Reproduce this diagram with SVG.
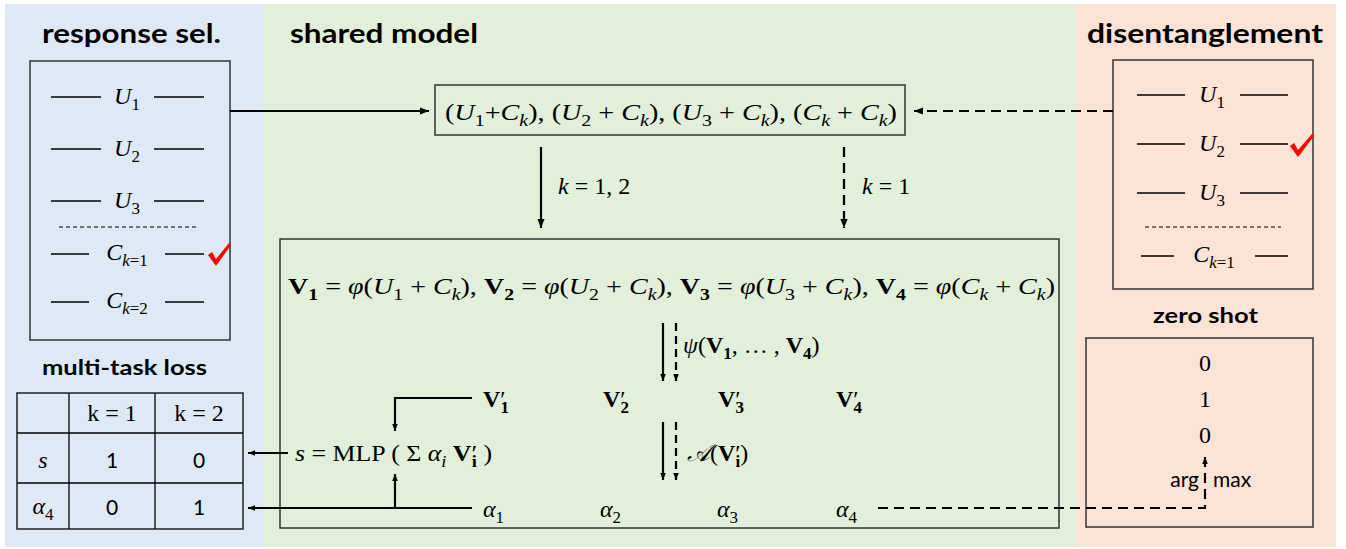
<svg xmlns="http://www.w3.org/2000/svg" width="1346" height="549" viewBox="0 0 1346 549">
<style>
.m{font-family:"Liberation Serif","DejaVu Serif",serif;font-size:24px;fill:#000}
.i{font-style:italic}
.b{font-weight:bold}
.s{font-size:17px}
.t{font-family:Lato,"Open Sans","Liberation Sans",sans-serif;font-weight:bold;font-size:26px;fill:#000}
.sn{font-family:Lato,"Open Sans","Liberation Sans",sans-serif;font-size:21px;fill:#000}
.ln{stroke:#000;stroke-width:1.3}
.box{fill:none;stroke:#333;stroke-width:1.5}
.c{stroke:#000;stroke-width:2.2;fill:none}
.d{stroke-dasharray:10 6}
.dd{stroke:#000;stroke-width:1;stroke-dasharray:4 3}
.chk{fill:#ff0000}
</style>
<defs>
<marker id="ah" viewBox="0 0 10 10" refX="10" refY="5" markerWidth="9" markerHeight="9" markerUnits="userSpaceOnUse" orient="auto"><path d="M0,1 L10,5 L0,9 Z" fill="#000"/></marker>
<marker id="as" viewBox="0 0 10 10" refX="10" refY="5" markerWidth="7" markerHeight="7" markerUnits="userSpaceOnUse" orient="auto"><path d="M0,1 L10,5 L0,9 Z" fill="#000"/></marker>
</defs>

<g id="panels">
<rect x="5" y="4" width="259" height="543" fill="#dee9f5"/>
<rect x="264" y="4" width="812" height="543" fill="#e2efda"/>
<rect x="1076" y="4" width="260" height="543" fill="#fbe4d6"/>
</g>

<g id="titles">
<text class="t" x="131.5" y="43" text-anchor="middle" textLength="179" lengthAdjust="spacingAndGlyphs">response sel.</text>
<text class="t" x="290" y="43" textLength="188" lengthAdjust="spacingAndGlyphs">shared model</text>
<text class="t" x="1205" y="43" text-anchor="middle" textLength="236" lengthAdjust="spacingAndGlyphs">disentanglement</text>
<text class="t" x="124.5" y="375" text-anchor="middle" style="font-size:21px" textLength="165" lengthAdjust="spacingAndGlyphs">multi-task loss</text>
<text class="t" x="1205.5" y="323" text-anchor="middle" style="font-size:21px" textLength="105" lengthAdjust="spacingAndGlyphs">zero shot</text>
</g>

<g id="response-box">
<rect class="box" x="30" y="61" width="200" height="279"/>
<line class="ln" x1="51" y1="97" x2="101" y2="97"/><line class="ln" x1="154" y1="97" x2="204" y2="97"/>
<text class="m" x="127" y="104" text-anchor="middle"><tspan class="i">U</tspan><tspan class="s" dy="6">1</tspan></text>
<line class="ln" x1="51" y1="149" x2="101" y2="149"/><line class="ln" x1="154" y1="149" x2="204" y2="149"/>
<text class="m" x="127" y="156" text-anchor="middle"><tspan class="i">U</tspan><tspan class="s" dy="6">2</tspan></text>
<line class="ln" x1="51" y1="201" x2="101" y2="201"/><line class="ln" x1="154" y1="201" x2="204" y2="201"/>
<text class="m" x="127" y="208" text-anchor="middle"><tspan class="i">U</tspan><tspan class="s" dy="6">3</tspan></text>
<line class="dd" x1="59" y1="227" x2="196" y2="227"/>
<line class="ln" x1="51" y1="254" x2="89" y2="254"/><line class="ln" x1="165" y1="254" x2="204" y2="254"/>
<text class="m" x="127" y="260" text-anchor="middle"><tspan class="i">C</tspan><tspan class="s" dy="6"><tspan class="i">k</tspan>=1</tspan></text>
<line class="ln" x1="51" y1="302" x2="89" y2="302"/><line class="ln" x1="165" y1="302" x2="204" y2="302"/>
<text class="m" x="127" y="308" text-anchor="middle"><tspan class="i">C</tspan><tspan class="s" dy="6"><tspan class="i">k</tspan>=2</tspan></text>
<path class="chk" d="M208,255 L212,252 L216,259 L229,243 L231,245 L216,266 Z"/>
</g>

<g id="table">
<rect class="box" x="17" y="393" width="226" height="136" style="stroke:#222"/>
<line class="ln" x1="17" y1="433" x2="243" y2="433"/>
<line class="ln" x1="17" y1="483" x2="243" y2="483"/>
<line class="ln" x1="69" y1="393" x2="69" y2="529"/>
<line class="ln" x1="155" y1="393" x2="155" y2="529"/>
<text class="m" x="112" y="421" text-anchor="middle">k = 1</text>
<text class="m" x="199" y="421" text-anchor="middle">k = 2</text>
<text class="m i" x="43" y="468" text-anchor="middle">s</text>
<text class="sn" x="112" y="468" text-anchor="middle">1</text>
<text class="sn" x="199" y="468" text-anchor="middle">0</text>
<text class="m" x="43" y="514" text-anchor="middle"><tspan class="i">α</tspan><tspan class="s" dy="6">4</tspan></text>
<text class="sn" x="112" y="515" text-anchor="middle">0</text>
<text class="sn" x="199" y="515" text-anchor="middle">1</text>
</g>

<g id="pairs-box">
<rect class="box" x="435" y="85" width="470" height="50"/>
<text class="m" x="445" y="120" textLength="452" lengthAdjust="spacingAndGlyphs">(<tspan class="i">U</tspan><tspan class="s" dy="6">1</tspan><tspan dy="-6">+</tspan><tspan class="i">C</tspan><tspan class="s i" dy="6">k</tspan><tspan dy="-6">), (</tspan><tspan class="i">U</tspan><tspan class="s" dy="6">2</tspan><tspan dy="-6"> + </tspan><tspan class="i">C</tspan><tspan class="s i" dy="6">k</tspan><tspan dy="-6">), (</tspan><tspan class="i">U</tspan><tspan class="s" dy="6">3</tspan><tspan dy="-6"> + </tspan><tspan class="i">C</tspan><tspan class="s i" dy="6">k</tspan><tspan dy="-6">),  (</tspan><tspan class="i">C</tspan><tspan class="s i" dy="6">k</tspan><tspan dy="-6"> + </tspan><tspan class="i">C</tspan><tspan class="s i" dy="6">k</tspan><tspan dy="-6">)</tspan></text>
</g>

<g id="model-box">
<rect class="box" x="280" y="239" width="779" height="289"/>
<text class="m" x="288" y="294" textLength="767" lengthAdjust="spacingAndGlyphs"><tspan class="b">V</tspan><tspan class="s b" dy="6">1</tspan><tspan dy="-6"> = </tspan><tspan class="i">φ</tspan>(<tspan class="i">U</tspan><tspan class="s" dy="6">1</tspan><tspan dy="-6"> + </tspan><tspan class="i">C</tspan><tspan class="s i" dy="6">k</tspan><tspan dy="-6">), </tspan><tspan class="b">V</tspan><tspan class="s b" dy="6">2</tspan><tspan dy="-6"> = </tspan><tspan class="i">φ</tspan>(<tspan class="i">U</tspan><tspan class="s" dy="6">2</tspan><tspan dy="-6"> + </tspan><tspan class="i">C</tspan><tspan class="s i" dy="6">k</tspan><tspan dy="-6">), </tspan><tspan class="b">V</tspan><tspan class="s b" dy="6">3</tspan><tspan dy="-6"> = </tspan><tspan class="i">φ</tspan>(<tspan class="i">U</tspan><tspan class="s" dy="6">3</tspan><tspan dy="-6"> + </tspan><tspan class="i">C</tspan><tspan class="s i" dy="6">k</tspan><tspan dy="-6">), </tspan><tspan class="b">V</tspan><tspan class="s b" dy="6">4</tspan><tspan dy="-6"> = </tspan><tspan class="i">φ</tspan>(<tspan class="i">C</tspan><tspan class="s i" dy="6">k</tspan><tspan dy="-6"> + </tspan><tspan class="i">C</tspan><tspan class="s i" dy="6">k</tspan><tspan dy="-6">)</tspan></text>
<text class="m" x="683" y="353"><tspan class="i">ψ</tspan>(<tspan class="b">V</tspan><tspan class="s b" dy="6">1</tspan><tspan dy="-6">, … , </tspan><tspan class="b">V</tspan><tspan class="s b" dy="6">4</tspan><tspan dy="-6">)</tspan></text>
<text class="m" x="483" y="407"><tspan class="b">V</tspan><tspan>′</tspan><tspan class="s b" dx="-5" dy="6">1</tspan></text>
<text class="m" x="603" y="407"><tspan class="b">V</tspan><tspan>′</tspan><tspan class="s b" dx="-5" dy="6">2</tspan></text>
<text class="m" x="718" y="407"><tspan class="b">V</tspan><tspan>′</tspan><tspan class="s b" dx="-5" dy="6">3</tspan></text>
<text class="m" x="836" y="407"><tspan class="b">V</tspan><tspan>′</tspan><tspan class="s b" dx="-5" dy="6">4</tspan></text>
<text class="m" x="295" y="461" textLength="197" lengthAdjust="spacingAndGlyphs"><tspan class="i">s</tspan> = MLP ( Σ <tspan class="i">α</tspan><tspan class="s i" dy="6">i</tspan><tspan dy="-6"> </tspan><tspan class="b">V</tspan><tspan>′</tspan><tspan class="s b" dx="-5" dy="6">i</tspan><tspan dy="-6"> )</tspan></text>
<text class="m" x="687" y="461"><tspan class="i">𝒜</tspan>(<tspan class="b">V</tspan><tspan>′</tspan><tspan class="s b" dx="-5" dy="6">i</tspan><tspan dy="-6">)</tspan></text>
<text class="m" x="483" y="517"><tspan class="i">α</tspan><tspan class="s" dy="6">1</tspan></text>
<text class="m" x="600" y="517"><tspan class="i">α</tspan><tspan class="s" dy="6">2</tspan></text>
<text class="m" x="717" y="517"><tspan class="i">α</tspan><tspan class="s" dy="6">3</tspan></text>
<text class="m" x="836" y="517"><tspan class="i">α</tspan><tspan class="s" dy="6">4</tspan></text>
</g>

<g id="disentangle-box">
<rect class="box" x="1113" y="60" width="200" height="229"/>
<line class="ln" x1="1137" y1="95" x2="1185" y2="95"/><line class="ln" x1="1240" y1="95" x2="1288" y2="95"/>
<text class="m" x="1212" y="102" text-anchor="middle"><tspan class="i">U</tspan><tspan class="s" dy="6">1</tspan></text>
<line class="ln" x1="1137" y1="144" x2="1185" y2="144"/><line class="ln" x1="1240" y1="144" x2="1288" y2="144"/>
<text class="m" x="1212" y="151" text-anchor="middle"><tspan class="i">U</tspan><tspan class="s" dy="6">2</tspan></text>
<line class="ln" x1="1137" y1="193" x2="1185" y2="193"/><line class="ln" x1="1240" y1="193" x2="1288" y2="193"/>
<text class="m" x="1212" y="200" text-anchor="middle"><tspan class="i">U</tspan><tspan class="s" dy="6">3</tspan></text>
<line class="dd" x1="1145" y1="227" x2="1281" y2="227"/>
<line class="ln" x1="1141" y1="256" x2="1174" y2="256"/><line class="ln" x1="1255" y1="256" x2="1288" y2="256"/>
<text class="m" x="1214" y="262" text-anchor="middle"><tspan class="i">C</tspan><tspan class="s" dy="6"><tspan class="i">k</tspan>=1</tspan></text>
<path class="chk" d="M1290,146 L1294,143 L1298,150 L1312,134 L1314,136 L1298,157 Z"/>
</g>

<g id="zero-shot-box">
<rect class="box" x="1086" y="338" width="227" height="189"/>
<text class="m" x="1205" y="371" text-anchor="middle">0</text>
<text class="m" x="1205" y="407" text-anchor="middle">1</text>
<text class="m" x="1205" y="443" text-anchor="middle">0</text>
<text class="sn" x="1199" y="487" text-anchor="end">arg</text>
<text class="sn" x="1213" y="487">max</text>
</g>

<g id="connectors">
<line class="c" x1="230" y1="111" x2="429" y2="111" marker-end="url(#ah)"/>
<line class="c d" x1="1113" y1="111" x2="914" y2="111" marker-end="url(#ah)"/>
<line class="c" x1="541" y1="147" x2="541" y2="228" marker-end="url(#ah)"/>
<line class="c d" x1="844" y1="147" x2="844" y2="228" marker-end="url(#ah)"/>
<text class="m" x="558" y="194"><tspan class="i">k</tspan> = 1, 2</text>
<text class="m" x="862" y="194"><tspan class="i">k</tspan> = 1</text>
<line class="c" x1="663" y1="323" x2="663" y2="381" marker-end="url(#as)"/>
<line class="c" x1="676" y1="323" x2="676" y2="381" marker-end="url(#as)" style="stroke-dasharray:8 5"/>
<line class="c" x1="663" y1="422" x2="663" y2="480" marker-end="url(#as)"/>
<line class="c" x1="676" y1="422" x2="676" y2="480" marker-end="url(#as)" style="stroke-dasharray:8 5"/>
<path class="c" d="M472,398 H395 V431" marker-end="url(#as)"/>
<line class="c" x1="288" y1="453" x2="248" y2="453" marker-end="url(#as)"/>
<line class="c" x1="472" y1="508" x2="248" y2="508" marker-end="url(#as)"/>
<line class="c" x1="395" y1="508" x2="395" y2="474" marker-end="url(#as)"/>
<path class="c d" d="M878,508 H1205 V457" marker-end="url(#as)"/>
</g>
</svg>
